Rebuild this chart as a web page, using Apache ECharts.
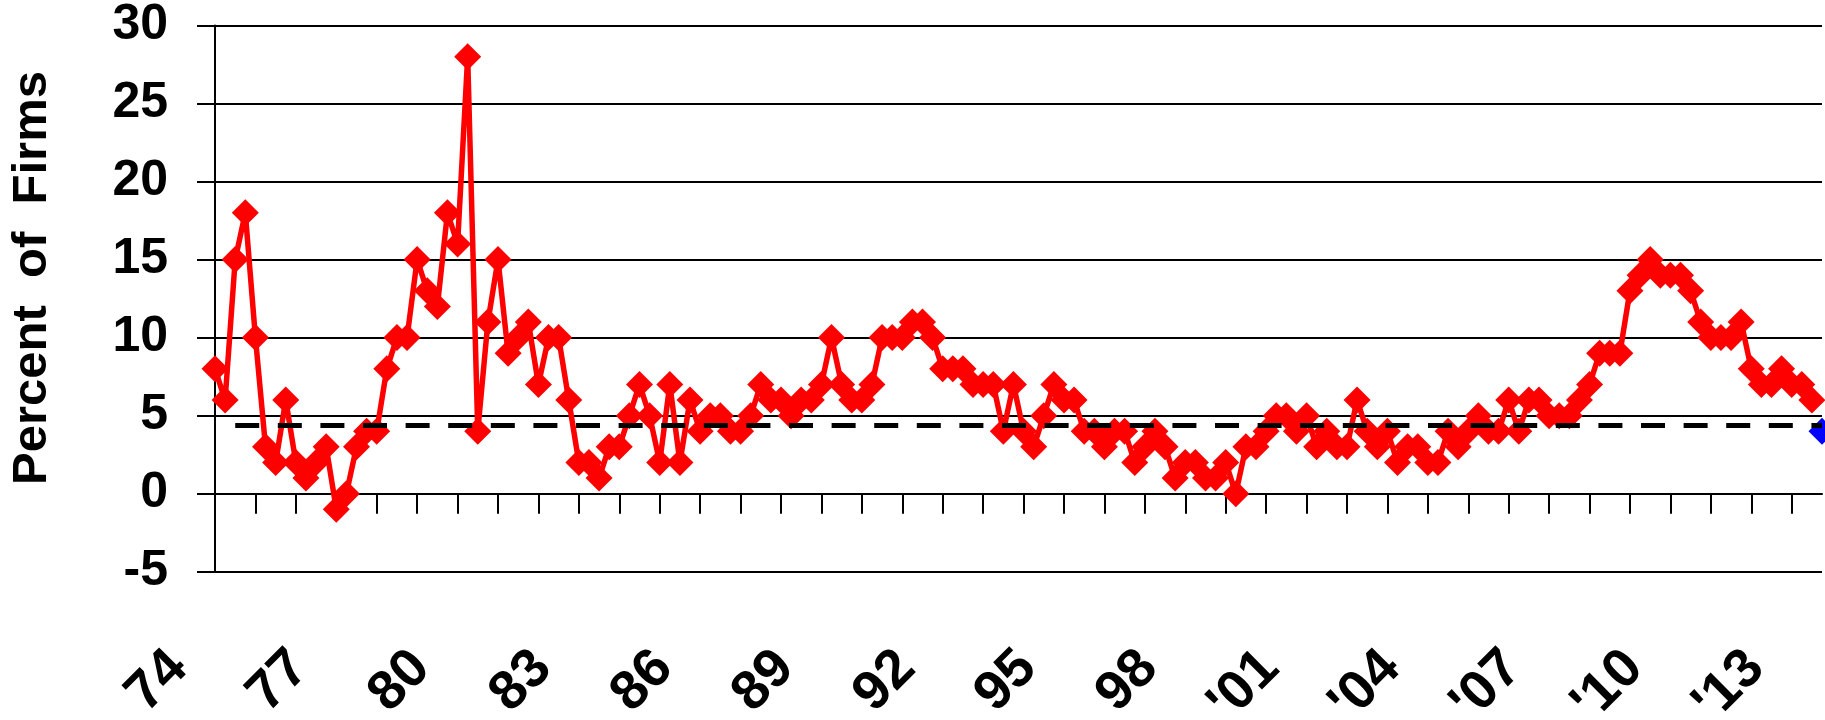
<!DOCTYPE html>
<html>
<head>
<meta charset="utf-8">
<title>Percent of Firms</title>
<script src="https://cdn.jsdelivr.net/npm/echarts@6/dist/echarts.min.js"></script>
<style>
  html, body { margin: 0; padding: 0; background: #ffffff; }
  #chart { width: 1825px; height: 720px; }
</style>
</head>
<body>
<div id="chart"></div>
<script>
// Quarterly categories, 1974 Q1 through 2013 Q4
const years = [];
for (let y = 1974; y <= 2013; y++) years.push(y);
const categories = [];
years.forEach(y => ['Q1', 'Q2', 'Q3', 'Q4'].forEach(q => categories.push(y + ' ' + q)));

// Year labels shown every third year along the bottom
const tickLabels = ['74', '77', '80', '83', '86', '89', '92', '95', '98', "'01", "'04", "'07", "'10", "'13"];

// Net percent of firms, one value per quarter (1974 Q1 - 2013 Q3)
const pctFirms = [
  8, 6, 15, 18, 10, 3, 2, 6, 2, 1,
  2, 3, -1, 0, 3, 4, 4, 8, 10, 10,
  15, 13, 12, 18, 16, 28, 4, 11, 15, 9,
  10, 11, 7, 10, 10, 6, 2, 2, 1, 3,
  3, 5, 7, 5, 2, 7, 2, 6, 4, 5,
  5, 4, 4, 5, 7, 6, 6, 5, 6, 6,
  7, 10, 7, 6, 6, 7, 10, 10, 10, 11,
  11, 10, 8, 8, 8, 7, 7, 7, 4, 7,
  4, 3, 5, 7, 6, 6, 4, 4, 3, 4,
  4, 2, 3, 4, 3, 1, 2, 2, 1, 1,
  2, 0, 3, 3, 4, 5, 5, 4, 5, 3,
  4, 3, 3, 6, 4, 3, 4, 2, 3, 3,
  2, 2, 4, 3, 4, 5, 4, 4, 6, 4,
  6, 6, 5, 5, 5, 6, 7, 9, 9, 9,
  13, 14, 15, 14, 14, 14, 13, 11, 10, 10,
  10, 11, 8, 7, 7, 8, 7, 7, 6
];

// Expected value for the following quarter (2013 Q4)
const expectedQuarter = ['2013 Q4'];
const expectedValue = [4];

// Long-run average, drawn dashed from 1974 Q3 onward
const historicalAverage = 4.4;
const averageFrom = '1974 Q3';
const averageTo = '2013 Q4';

const FONT = '"Liberation Sans", Arial, Helvetica, sans-serif';

const chart = echarts.init(document.getElementById('chart'), null, { renderer: 'canvas' });

chart.setOption({
  backgroundColor: '#ffffff',
  animation: false,
  grid: {
    left: 215,
    right: 3,
    top: 25.5,
    bottom: 148.3,
    containLabel: false,
    outerBoundsMode: 'none'
  },
  xAxis: [
    {
      // axis through zero carrying the yearly tick marks
      type: 'category',
      data: categories,
      boundaryGap: false,
      axisLine: { onZero: true, lineStyle: { color: '#000', width: 2 } },
      axisTick: { show: true, interval: 3, length: 20, inside: false, lineStyle: { color: '#000', width: 2 } },
      axisLabel: { show: false },
      splitLine: { show: false }
    },
    {
      // bottom axis carrying the rotated year labels
      type: 'category',
      data: categories,
      boundaryGap: false,
      position: 'bottom',
      axisLine: { show: false, onZero: false },
      axisTick: { show: false },
      splitLine: { show: false },
      axisLabel: {
        show: true,
        rotate: 45,
        interval: (index) => index % 12 === 0,
        formatter: (value, index) => tickLabels[index / 12] || '',
        fontFamily: FONT,
        fontSize: 55,
        fontWeight: 'bold',
        color: '#000',
        margin: 52,
        padding: [0, 51, 0, 0],
        hideOverlap: false
      }
    }
  ],
  yAxis: {
    type: 'value',
    min: -5,
    max: 30,
    interval: 5,
    axisLine: { show: true, onZero: false, lineStyle: { color: '#000', width: 2 } },
    axisTick: { show: true, length: 18, lineStyle: { color: '#000', width: 2 } },
    axisLabel: {
      fontFamily: FONT,
      fontSize: 50,
      fontWeight: 'bold',
      color: '#000',
      margin: 47,
      padding: [10, 0, 0, 0]
    },
    splitLine: { show: true, lineStyle: { color: '#000', width: 2 } }
  },
  graphic: [
    {
      type: 'text',
      x: 32,
      y: 278,
      rotation: Math.PI / 2,
      style: {
        text: 'Percent  of  Firms',
        font: 'bold 49px ' + FONT,
        fill: '#000',
        align: 'center',
        verticalAlign: 'middle',
        textAlign: 'center',
        textVerticalAlign: 'middle'
      }
    }
  ],
  series: [
    {
      name: 'Percent of Firms',
      type: 'line',
      xAxisIndex: 0,
      data: pctFirms,
      symbol: 'diamond',
      symbolSize: 27,
      showAllSymbol: true,
      lineStyle: { color: '#ff0000', width: 5.5 },
      itemStyle: { color: '#ff0000' },
      z: 2
    },
    {
      name: 'Expected',
      type: 'line',
      xAxisIndex: 0,
      data: expectedQuarter.map((c, i) => [c, expectedValue[i]]),
      symbol: 'diamond',
      symbolSize: 27,
      showSymbol: true,
      showAllSymbol: true,
      clip: false,
      itemStyle: { color: '#0000ff' },
      lineStyle: { width: 0 },
      z: 3,
      markLine: {
        silent: true,
        symbol: 'none',
        label: { show: false },
        lineStyle: { color: '#000', width: 5, type: [24, 18.6] },
        data: [[
          { coord: [averageFrom, historicalAverage] },
          { coord: [averageTo, historicalAverage] }
        ]],
        z: 5
      }
    }
  ]
});
</script>
</body>
</html>
